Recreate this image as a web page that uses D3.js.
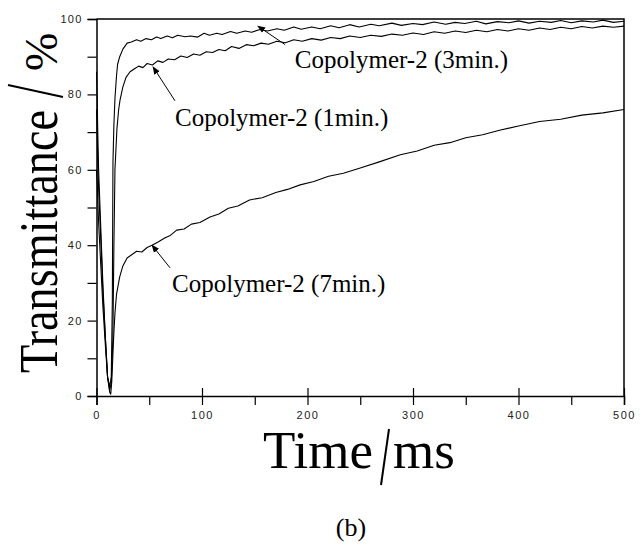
<!DOCTYPE html>
<html>
<head>
<meta charset="utf-8">
<script src="https://cdn.jsdelivr.net/npm/d3@7"></script>
<style>
  body { margin: 0; background: #fff; }
  svg { display: block; }
</style>
</head>
<body>
<svg width="640" height="552"></svg>
<script>
  // data: [time (ms), transmittance (%)]
  const copolymer3min = [
    [0, 86], [0.6, 80], [1.2, 70], [2, 60], [4, 45], [6, 30], [8.5, 15], [10.5, 5], [12.5, 2.5], [14, 5],
    [15, 25], [15.6, 62], [16.5, 72], [17.5, 79], [19, 85], [20, 88], [22, 90], [25, 92],
    [29, 93.6], [33, 93.9], [38, 94.5], [42, 94.1], [47, 94.8], [52, 94.5], [57, 95.2],
    [61, 94.8], [67, 95.5], [72, 95.0], [77, 95.7], [84, 95.3], [89, 95.5], [96, 95.2],
    [102, 96.2], [107, 95.7], [114, 96.2], [119, 95.9], [127, 96.7], [133, 96.2], [141, 96.8],
    [147, 96.5], [155, 97.2], [162, 96.8], [171, 97.4], [178, 97.0], [187, 97.9], [194, 97.3],
    [204, 97.9], [212, 97.4], [222, 98.2], [230, 97.7], [240, 98.5], [249, 97.9], [260, 98.6],
    [268, 98.2], [280, 98.9], [289, 98.3], [300, 98.8], [309, 98.5], [320, 99.2], [331, 98.6],
    [340, 99.1], [349, 98.8], [360, 99.4], [369, 98.7], [380, 99.3], [391, 99.0], [400, 99.5],
    [410, 98.9], [420, 99.4], [431, 99.1], [440, 99.6], [450, 99.0], [460, 99.5], [471, 99.2],
    [480, 99.7], [490, 99.1], [500, 99.4]
  ];
  const copolymer1min = [
    [0, 76], [0.6, 70], [1.2, 62], [2, 55], [4, 42], [6, 28], [8.5, 15], [10.5, 5], [12.5, 1.5], [14, 3.5],
    [15.5, 15], [16.5, 40], [17.5, 60], [19.4, 71], [21, 76], [22.3, 78.5], [25, 82],
    [28, 84.5], [31.8, 86], [36, 86.8], [40, 87.5], [44, 87.1], [48, 88.2], [53, 87.8],
    [58, 88.9], [63, 88.5], [68, 89.4], [74, 89.2], [80, 90.2], [86, 89.8], [92, 90.7],
    [98, 90.4], [104, 91.3], [110, 91.1], [116, 91.9], [122, 91.6], [128, 92.7], [135, 92.2],
    [142, 93.2], [149, 92.9], [156, 93.6], [163, 93.3], [171, 94.1], [179, 93.7], [187, 94.5],
    [195, 94.1], [204, 94.8], [213, 94.4], [222, 95.1], [231, 94.8], [240, 95.5], [250, 95.1],
    [260, 95.7], [270, 95.4], [280, 96.0], [290, 95.7], [300, 96.3], [310, 95.9], [320, 96.6],
    [330, 96.2], [340, 96.8], [350, 96.4], [360, 97.0], [370, 96.6], [380, 97.2], [390, 96.8],
    [400, 97.4], [410, 97.0], [420, 97.6], [430, 97.2], [440, 97.8], [450, 97.4], [460, 98.0],
    [470, 97.6], [480, 98.1], [490, 97.8], [500, 98.1]
  ];
  const copolymer7min = [
    [0, 60], [0.6, 57], [1.2, 52], [2, 46], [4, 35], [6, 24], [8.5, 13], [10.5, 5], [12.5, 1], [13.5, 0.5],
    [14.5, 4], [15.7, 12], [16.5, 17], [17.5, 22], [19, 27], [22, 31.6], [25, 34.5], [29, 36.6],
    [34, 37.6], [38, 38.4], [43, 38.2], [48, 39.4], [52.6, 40], [58, 40.8], [65, 42],
    [70, 42.6], [76, 44], [83, 44.3], [90, 45.6], [98, 46.0], [107.6, 47.5], [116, 48.3],
    [125, 49.8], [134, 50.4], [145, 52], [157, 52.6], [170, 54], [181, 54.8], [193, 56],
    [206, 56.9], [220, 58.3], [234, 59.1], [250, 60.5], [268, 62.1], [288, 64], [304, 65.0],
    [320, 66.5], [335, 67.2], [350, 68.5], [366, 69.3], [382, 70.5], [400, 71.6], [420, 72.8],
    [440, 73.4], [460, 74.5], [480, 75.1], [500, 76]
  ];
  const xTicks = [0, 50, 100, 150, 200, 250, 300, 350, 400, 450, 500];
  const yTicks = [0, 10, 20, 30, 40, 50, 60, 70, 80, 90, 100];
  // label text, text start, arrow start and arrow tip (data units)
  const labels = [
    { text: "Copolymer-2 (3min.)", at: [188, 87], from: [178.8, 93.2], tip: [153, 98.1] },
    { text: "Copolymer-2 (1min.)", at: [74.4, 71.6], from: [74.4, 78.3], tip: [53.6, 87.3] },
    { text: "Copolymer-2 (7min.)", at: [71.6, 27.6], from: [69.7, 34], tip: [52.6, 40] }
  ];

  const svg = d3.select("svg");
  const plotLeft = 96.5, plotRight = 624, plotTop = 19, plotBottom = 396;

  const x = d3.scaleLinear().domain([0, 500]).range([plotLeft, plotRight]);
  const y = d3.scaleLinear().domain([0, 100]).range([plotBottom, plotTop]);

  const tickFont = "'Liberation Sans', Arial, sans-serif";
  const serif = "'Liberation Serif', 'Times New Roman', serif";

  // frame (top and right)
  svg.append("path")
    .attr("d", `M${plotLeft},${plotTop}H${plotRight}V${plotBottom}`)
    .attr("fill", "none").attr("stroke", "#000").attr("stroke-width", 1.5);

  // y axis
  const yAxis = svg.append("g")
    .attr("transform", `translate(${plotLeft},0)`)
    .call(d3.axisLeft(y).tickValues(yTicks).tickSize(9).tickPadding(5)
      .tickFormat(d => d % 20 === 0 ? d : ""));
  yAxis.select(".domain").attr("stroke-width", 1.5);
  yAxis.selectAll("line").attr("stroke-width", 1.2);
  yAxis.selectAll("text").attr("font-family", tickFont).attr("font-size", 11)
    .attr("letter-spacing", "1.2px").attr("fill", "#222");

  // x axis
  const xAxis = svg.append("g")
    .attr("transform", `translate(0,${plotBottom})`)
    .call(d3.axisBottom(x).tickValues(xTicks).tickSize(9).tickPadding(6)
      .tickFormat(d => d % 100 === 0 ? d : ""));
  xAxis.select(".domain").attr("stroke-width", 1.5);
  xAxis.selectAll(".tick line")
    .attr("y1", d => d % 100 === 0 ? -8 : 0)
    .attr("stroke-width", 1.2);
  xAxis.selectAll("text").attr("font-family", tickFont).attr("font-size", 11)
    .attr("letter-spacing", "1.5px").attr("fill", "#222");

  // curves
  const line = d3.line().x(d => x(d[0])).y(d => y(d[1]));
  [copolymer3min, copolymer1min, copolymer7min].forEach(series => {
    svg.append("path")
      .datum(series)
      .attr("d", line)
      .attr("fill", "none")
      .attr("stroke", "#000")
      .attr("stroke-width", 1.1)
      .attr("stroke-linejoin", "round");
  });

  // annotations with arrows
  svg.append("defs").append("marker")
    .attr("id", "head")
    .attr("viewBox", "0 0 10 10")
    .attr("refX", 9).attr("refY", 5)
    .attr("markerWidth", 8).attr("markerHeight", 8)
    .attr("orient", "auto")
    .append("path").attr("d", "M0,1L10,5L0,9z").attr("fill", "#000");

  labels.forEach(l => {
    svg.append("line")
      .attr("x1", x(l.from[0])).attr("y1", y(l.from[1]))
      .attr("x2", x(l.tip[0])).attr("y2", y(l.tip[1]))
      .attr("stroke", "#000").attr("stroke-width", 1)
      .attr("marker-end", "url(#head)");
    svg.append("text")
      .attr("x", x(l.at[0])).attr("y", y(l.at[1]))
      .attr("font-family", serif).attr("font-size", 25)
      .text(l.text);
  });

  // axis titles
  svg.append("text")
    .attr("x", 263).attr("y", 468)
    .attr("font-family", serif).attr("font-size", 53)
    .text("Time");
  svg.append("line")
    .attr("x1", 389).attr("y1", 429).attr("x2", 381).attr("y2", 485)
    .attr("stroke", "#000").attr("stroke-width", 2);
  svg.append("text")
    .attr("x", 393).attr("y", 468)
    .attr("font-family", serif).attr("font-size", 53)
    .text("ms");

  svg.append("text")
    .attr("transform", "translate(57,373) rotate(-90)")
    .attr("font-family", serif).attr("font-size", 54)
    .attr("textLength", 263).attr("lengthAdjust", "spacingAndGlyphs")
    .text("Transmittance");
  svg.append("line")
    .attr("x1", 8).attr("y1", 85).attr("x2", 63).attr("y2", 97)
    .attr("stroke", "#000").attr("stroke-width", 2);
  svg.append("text")
    .attr("transform", "translate(57,71) rotate(-90)")
    .attr("font-family", serif).attr("font-size", 46)
    .text("%");

  svg.append("text")
    .attr("x", 351).attr("y", 536)
    .attr("text-anchor", "middle")
    .attr("font-family", serif).attr("font-size", 26)
    .text("(b)");
</script>
</body>
</html>
